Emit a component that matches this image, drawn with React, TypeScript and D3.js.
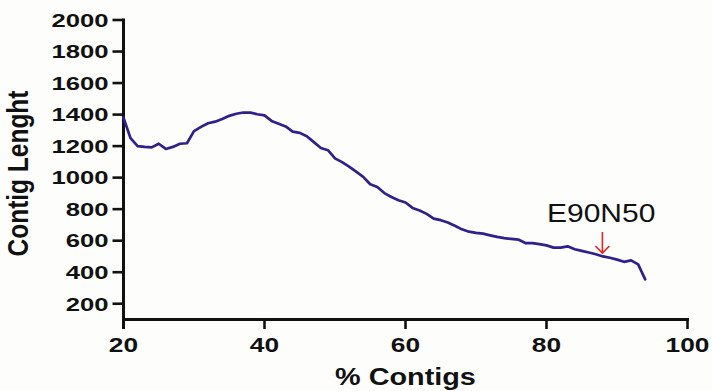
import React from "react";
import * as d3 from "d3";

const pct = [20,21,22,23,24,25,26,27,28,29,30,31,32,33,34,35,36,37,38,39,40,41,42,43,44,45,46,47,48,49,50,51,52,53,54,55,56,57,58,59,60,61,62,63,64,65,66,67,68,69,70,71,72,73,74,75,76,77,78,79,80,81,82,83,84,85,86,87,88,89,90,91,92,93,94];
const lengths = [1380,1250,1200,1195,1192,1215,1182,1195,1215,1218,1295,1322,1345,1355,1372,1392,1405,1413,1412,1402,1395,1360,1342,1325,1292,1284,1262,1225,1188,1174,1122,1098,1070,1038,1005,958,940,902,877,856,842,808,792,770,740,730,715,695,672,657,650,645,634,624,616,611,607,585,584,578,570,556,556,564,546,535,525,514,500,492,480,466,475,450,355];
const xTicks = [20, 40, 60, 80, 100];
const yTicks = [200, 400, 600, 800, 1000, 1200, 1400, 1600, 1800, 2000];
const xTitle = "% Contigs";
const yTitle = "Contig Lenght";
const annotation = "E90N50";
const annotationX = 88;

export default function App() {
  const W = 712, H = 391;
  const x = d3.scaleLinear().domain([20, 100]).range([123.5, 687.5]);
  const y = d3.scaleLinear().domain([100, 2000]).range([319.5, 20]);
  const line = d3.line<number>().x((_, i) => x(pct[i])).y((d) => y(d));
  const font = "'Liberation Sans', Arial, sans-serif";
  const ax = x(annotationX) - 0.5;
  return (
    <svg width={W} height={H} style={{ position: "absolute", left: 0, top: 0 }} xmlns="http://www.w3.org/2000/svg">
      <rect width={W} height={H} fill="#fdfdfc" />
      {/* y axis */}
      <line x1={x(20)} x2={x(20)} y1={y(2000) - 1.5} y2={y(100) + 9.5} stroke="#111" strokeWidth={3} />
      {yTicks.map((t) => (
        <g key={t}>
          <line x1={x(20) - 11} x2={x(20)} y1={y(t)} y2={y(t)} stroke="#111" strokeWidth={2.6} />
          <text transform={`translate(108.5,${y(t) + 6.8}) scale(1.35,1)`} textAnchor="end" fontFamily={font} fontWeight="bold" fontSize={19} fill="#111">{t}</text>
        </g>
      ))}
      {/* x axis */}
      <line x1={x(20) - 1.5} x2={x(100) + 1.5} y1={y(100)} y2={y(100)} stroke="#111" strokeWidth={3} />
      {xTicks.map((t) => (
        <g key={t}>
          <line x1={x(t)} x2={x(t)} y1={y(100)} y2={y(100) + 9.5} stroke="#111" strokeWidth={2.6} />
          <text transform={`translate(${x(t)},351.5) scale(1.35,1)`} textAnchor="middle" fontFamily={font} fontWeight="bold" fontSize={19.5} fill="#111">{t}</text>
        </g>
      ))}
      <text transform={`translate(${x(60)},384.5) scale(1.2,1)`} textAnchor="middle" fontFamily={font} fontWeight="bold" fontSize={24} fill="#111">{xTitle}</text>
      <text transform={`translate(28,173.5) scale(1.2,1) rotate(-90)`} textAnchor="middle" fontFamily={font} fontWeight="bold" fontSize={24.5} fill="#111">{yTitle}</text>
      {/* data line */}
      <path d={line(lengths) || ""} fill="none" stroke="#30208a" strokeWidth={2.7} strokeLinejoin="round" strokeLinecap="round" />
      {/* annotation */}
      <text transform={`translate(547,221.5) scale(1.2,1)`} fontFamily={font} fontSize={25} fill="#111">{annotation}</text>
      <line x1={ax} x2={ax} y1={232} y2={253} stroke="#e8231f" strokeWidth={1.6} />
      <polyline points={`${ax - 7},${246} ${ax},${253} ${ax + 7},${246}`} fill="none" stroke="#e8231f" strokeWidth={1.6} />
    </svg>
  );
}
